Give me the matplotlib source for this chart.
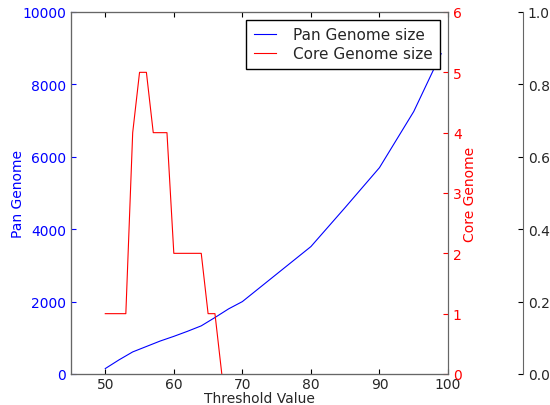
import matplotlib
matplotlib.use('Agg')
import matplotlib.pyplot as plt

# Pan genome size per threshold
pan_x = [50, 52, 54, 56, 58, 60, 62, 64, 66, 68, 70, 75, 80, 85, 90, 95, 99]
pan_y = [150, 390, 610, 760, 910, 1040, 1180, 1330, 1560, 1800, 2000, 2760, 3520, 4600, 5700, 7250, 8850]

# Core genome size per threshold
core_x = [50, 51, 52, 53, 54, 55, 56, 57, 58, 59, 60, 61, 62, 63, 64, 65, 66, 67]
core_y = [1, 1, 1, 1, 4, 5, 5, 4, 4, 4, 2, 2, 2, 2, 2, 1, 1, 0]

spine_col = '0.4'
text_col = '0.15'

fig = plt.figure(figsize=(5.5, 4.06), dpi=100)
host = fig.add_axes([71/550, 31/406, 377/550, 362/406])
par1 = host.twinx()
par2 = host.twinx()
par2.spines['right'].set_position(('axes', (523 - 71) / 377))

p1, = host.plot(pan_x, pan_y, color='blue', lw=0.8, label='Pan Genome size')
p2, = par1.plot(core_x, core_y, color='red', lw=0.8, label='Core Genome size')

host.set_xlim(45, 100)
host.set_ylim(0, 10000)
par1.set_ylim(0, 6)
par2.set_ylim(0, 1)

host.set_xlabel('Threshold Value', fontsize=10, color=text_col, labelpad=0)
host.set_ylabel('Pan Genome', color='blue', fontsize=10, labelpad=-2)
par1.set_ylabel('Core Genome', color='red', fontsize=10, labelpad=1)

for ax in (host, par1, par2):
    for s in ax.spines.values():
        s.set_color(spine_col)

host.tick_params(axis='x', direction='in', top=True, labelsize=10, color='k',
                 labelcolor=text_col, pad=2.5)
host.tick_params(axis='y', direction='in', colors='blue', labelsize=10)
par1.tick_params(axis='y', direction='in', colors='red', labelsize=10)
par2.tick_params(axis='y', direction='in', color='k', labelcolor=text_col, labelsize=10)
host.set_yticks([0, 2000, 4000, 6000, 8000, 10000])
par1.set_yticks(range(0, 7))
par2.set_yticks([0, 0.2, 0.4, 0.6, 0.8, 1.0])

leg = host.legend([p1, p2], [p1.get_label(), p2.get_label()], loc='upper right',
                  fontsize=11, fancybox=False, edgecolor='k', framealpha=1,
                  borderaxespad=0.5, handlelength=1.45, handletextpad=1.1,
                  labelspacing=0.25, borderpad=0.5)
leg.get_frame().set_linewidth(1.0)
for t in leg.get_texts():
    t.set_color(text_col)

fig.savefig('out.png', dpi=100)
